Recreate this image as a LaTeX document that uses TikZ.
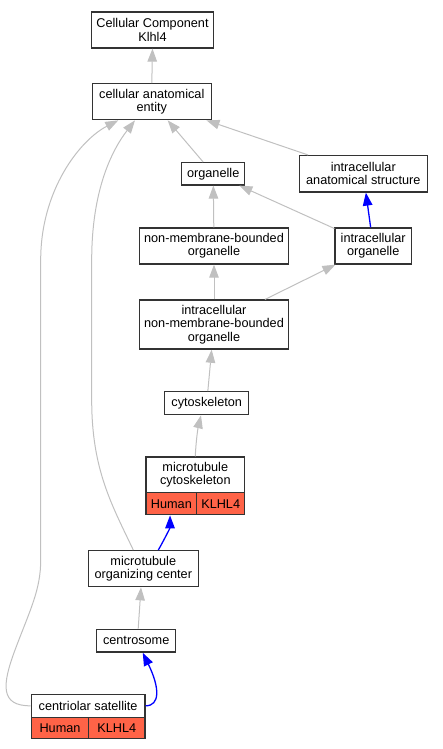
\documentclass[tikz,border=0pt]{standalone}
\usepackage{fontspec}
\setmainfont{Liberation Sans}
\usetikzlibrary{arrows.meta,calc}
\definecolor{tomatoc}{HTML}{FF6347}
\definecolor{edgegray}{HTML}{C0C0C0}
\definecolor{boxline}{HTML}{333333}
\tikzset{
  box/.style={draw=boxline, line width=1.3pt, fill=white, inner sep=0pt, align=center,
    font=\fontsize{12.7}{13.3}\selectfont},
  cell/.style={box, fill=tomatoc},
  isa/.style={draw=edgegray, line width=1pt, -{Triangle[length=13pt,width=9.5pt]}},
  partof/.style={draw=blue, line width=1.3pt, -{Triangle[length=13pt,width=9.5pt]}},
}
\begin{document}
\begin{tikzpicture}[x=1pt,y=1pt]
\useasboundingbox (0,0) rectangle (443,-749);
% nodes
\node[box, minimum width=122.4pt, minimum height=36pt] (cck) at (152.5,-30) {Cellular Component\\Klhl4};
\node[box, minimum width=119pt, minimum height=36pt] (cae) at (151.8,-101.7) {cellular anatomical\\entity};
\node[box, minimum width=63pt, minimum height=22.3pt] (org) at (213.2,-173.8) {organelle};
\node[box, minimum width=128pt, minimum height=36.3pt] (ias) at (363.3,-173.8) {intracellular\\anatomical structure};
\node[box, minimum width=149.4pt, minimum height=36pt] (nmbo) at (214,-246) {non-membrane-bounded\\organelle};
\node[box, minimum width=76.3pt, minimum height=36pt] (io) at (373.2,-246) {intracellular\\organelle};
\node[box, minimum width=149.4pt, minimum height=49pt] (inmbo) at (214,-324.6) {intracellular\\non-membrane-bounded\\organelle};
\node[box, minimum width=84pt, minimum height=23pt] (cyto) at (206.7,-403.2) {cytoskeleton};
\node[box, minimum width=98.7pt, minimum height=35.7pt] (mch) at (195.3,-474.8) {microtubule\\cytoskeleton};
\node[cell, minimum width=50.7pt, minimum height=22pt] (mcH) at (171.35,-503.7) {Human};
\node[cell, minimum width=48pt, minimum height=22pt] (mcK) at (220.7,-503.7) {KLHL4};
\node[box, minimum width=110pt, minimum height=36pt] (moc) at (143.3,-568.7) {microtubule\\organizing center};
\node[box, minimum width=79pt, minimum height=22.7pt] (cent) at (136.2,-640.7) {centrosome};
\node[box, minimum width=113.7pt, minimum height=23pt] (csh) at (88.15,-705.8) {centriolar satellite};
\node[cell, minimum width=57.4pt, minimum height=21.4pt] (csH) at (60,-728) {Human};
\node[cell, minimum width=56.3pt, minimum height=21.4pt] (csK) at (116.85,-728) {KLHL4};
% edges
\draw[isa] (cae.north) -- (cck.south);
\draw[isa] (org) -- (cae);
\draw[isa] (ias) -- (cae);
\draw[isa] (nmbo) -- (org);
\draw[isa] (io) -- (org);
\draw[partof] (io) -- (ias);
\draw[isa] (inmbo) -- (nmbo);
\draw[isa] (inmbo) -- (io);
\draw[isa] (cyto) -- (inmbo);
\draw[isa] (mch.north) .. controls (196,-440) and (198,-428) .. ([xshift=-5.7pt]cyto.south);
\draw[partof] ([xshift=15pt]moc.north) .. controls (164,-540) and (170,-528) .. ([xshift=-1.3pt]mcH.south);
\draw[isa] ([xshift=-10pt]moc.north) .. controls (112,-505) and (91.7,-470) .. (91.7,-400)
  -- (91.7,-260) .. controls (91.7,-190) and (112,-150) .. ([xshift=-16.8pt]cae.south);
\draw[isa] ([xshift=2pt]cent.north) -- ([xshift=-2.3pt]moc.south);
\draw[partof] (csh.east) .. controls (160,-705.8) and (160,-688) .. ([xshift=6.5pt]cent.south);
\draw[isa] (csh.west) .. controls (0,-706) and (2,-685) .. (15,-650)
  .. controls (30,-610) and (40.7,-590) .. (40.7,-560) -- (40.7,-260)
  .. controls (40.7,-190) and (80,-140) .. ([xshift=-33.5pt]cae.south);
\end{tikzpicture}
\end{document}
